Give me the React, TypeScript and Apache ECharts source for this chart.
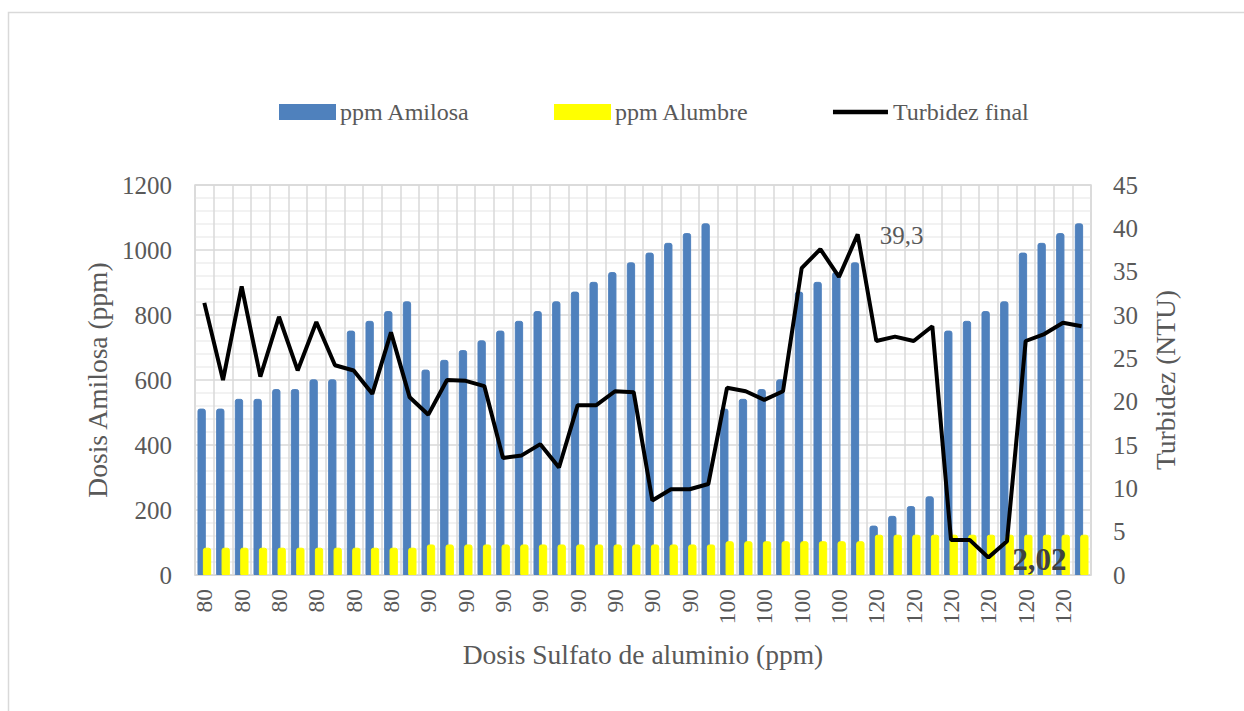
import React, { useEffect, useRef } from "react";
import * as echarts from "echarts";

const dosisSulfato: string[] = [
  "80", "80", "80", "80", "80", "80", "80", "80", "80", "80", "80", "80",
  "90", "90", "90", "90", "90", "90", "90", "90", "90", "90", "90", "90", "90", "90", "90", "90",
  "100", "100", "100", "100", "100", "100", "100", "100",
  "120", "120", "120", "120", "120", "120", "120", "120", "120", "120", "120", "120",
];

const ppmAmilosa: number[] = [
  512, 512, 542, 542, 572, 572, 602, 602, 752, 782, 812, 842,
  632, 662, 692, 722, 752, 782, 812, 842, 872, 902, 932, 962, 992, 1022, 1052, 1082,
  512, 542, 572, 602, 872, 902, 932, 962,
  152, 182, 212, 242, 752, 782, 812, 842, 992, 1022, 1052, 1082,
];

const ppmAlumbre: number[] = [
  84, 84, 84, 84, 84, 84, 84, 84, 84, 84, 84, 84,
  94, 94, 94, 94, 94, 94, 94, 94, 94, 94, 94, 94, 94, 94, 94, 94,
  104, 104, 104, 104, 104, 104, 104, 104,
  124, 124, 124, 124, 124, 124, 124, 124, 124, 124, 124, 124,
];

const turbidezFinal: number[] = [
  31.4, 22.5, 33.3, 22.9, 29.8, 23.6, 29.2, 24.2, 23.6, 20.9, 28.0, 20.5,
  18.5, 22.5, 22.4, 21.8, 13.5, 13.8, 15.1, 12.4, 19.6, 19.6, 21.2, 21.1, 8.6, 9.9, 9.9, 10.5,
  21.6, 21.2, 20.2, 21.2, 35.4, 37.6, 34.4, 39.3,
  27.0, 27.5, 27.0, 28.7, 4.05, 4.05, 2.02, 3.9, 27.0, 27.8, 29.1, 28.7,
];

const highlightMax = 35;
const highlightMin = 42;

const FONT = "'Liberation Serif', 'DejaVu Serif', serif";
const GRAY = "#595959";
const GRID = "#d9d9d9";

const fmt = (v: number) => String(v).replace(".", ",");

export default function App() {
  const ref = useRef<HTMLDivElement>(null);

  useEffect(() => {
    if (!ref.current) return;
    const chart = echarts.init(ref.current, undefined, { renderer: "svg" });
    const option: any = {
      animation: false,
      textStyle: { fontFamily: FONT },
      graphic: [
        {
          type: "rect",
          silent: true,
          z: -10,
          shape: { x: 8.5, y: 12.5, width: 1300, height: 800 },
          style: { fill: "none", stroke: GRID, lineWidth: 1.5 },
        },
      ],
      grid: {
        left: 195,
        right: 153,
        top: 185,
        bottom: 136,
        show: true,
        borderColor: GRID,
        borderWidth: 1.5,
      },
      legend: {
        left: 274,
        top: 95,
        itemWidth: 55,
        itemHeight: 14,
        itemGap: 84,
        textStyle: { fontFamily: FONT, fontSize: 24, color: GRAY },
        data: [
          { name: "ppm Amilosa", icon: "rect" },
          { name: "ppm Alumbre", icon: "rect" },
          { name: "Turbidez final", icon: "path://M0,0L55,0L55,4.5L0,4.5Z" },
        ],
      },
      xAxis: {
        type: "category",
        data: dosisSulfato,
        name: "Dosis Sulfato de aluminio (ppm)",
        nameLocation: "middle",
        nameGap: 65,
        nameTextStyle: { fontFamily: FONT, fontSize: 27.5, color: GRAY },
        axisLine: { show: true, lineStyle: { color: GRID, width: 1.5 } },
        axisTick: { show: false },
        axisLabel: {
          interval: 1,
          rotate: 90,
          margin: 14,
          fontFamily: FONT,
          fontSize: 23.5,
          color: GRAY,
        },
        splitLine: { show: true, interval: 0, lineStyle: { color: GRID, width: 1.5 } },
      },
      yAxis: [
        {
          type: "value",
          min: 0,
          max: 1200,
          interval: 200,
          name: "Dosis Amilosa (ppm)",
          nameLocation: "middle",
          nameGap: 76,
          nameTextStyle: { fontFamily: FONT, fontSize: 27.5, color: GRAY },
          axisLine: { show: false },
          axisTick: { show: false },
          axisLabel: {
            margin: 23,
            fontFamily: FONT,
            fontSize: 25,
            color: GRAY,
            formatter: (v: number) => String(v),
          },
          splitLine: { show: true, lineStyle: { color: GRID, width: 1.5 } },
          minorTick: { show: true, splitNumber: 5, length: 0, lineStyle: { color: "transparent" } },
          minorSplitLine: { show: true, lineStyle: { color: "#eeeeee", width: 1.5 } },
        },
        {
          type: "value",
          min: 0,
          max: 45,
          interval: 5,
          name: "Turbidez (NTU)",
          nameLocation: "middle",
          nameGap: 60,
          nameTextStyle: { fontFamily: FONT, fontSize: 27.5, color: GRAY },
          axisLine: { show: false },
          axisTick: { show: false },
          axisLabel: {
            margin: 22,
            fontFamily: FONT,
            fontSize: 25,
            color: GRAY,
            formatter: (v: number) => String(v),
          },
          splitLine: { show: false },
        },
      ],
      series: [
        {
          name: "ppm Amilosa",
          type: "bar",
          data: ppmAmilosa,
          barWidth: 8.3,
          barGap: "-35%",
          itemStyle: { color: "#4f81bd", borderColor: "#4f81bd", borderWidth: 1, borderRadius: [2, 2, 0, 0] },
        },
        {
          name: "ppm Alumbre",
          type: "bar",
          data: ppmAlumbre,
          barWidth: 8.3,
          barGap: "-35%",
          itemStyle: { color: "#ffff00", borderColor: "#ffff00", borderWidth: 1, borderRadius: [2, 2, 0, 0] },
        },
        {
          name: "Turbidez final",
          type: "line",
          yAxisIndex: 1,
          data: turbidezFinal,
          symbol: "none",
          z: 5,
          lineStyle: { color: "#000000", width: 4 },
          itemStyle: { color: "#000000" },
          markPoint: {
            symbol: "circle",
            symbolSize: 1,
            itemStyle: { color: "rgba(0,0,0,0)" },
            data: [
              {
                coord: [highlightMax, turbidezFinal[highlightMax]],
                label: {
                  show: true,
                  position: "inside",
                  offset: [44, 1],
                  formatter: () => fmt(turbidezFinal[highlightMax]),
                  fontFamily: FONT,
                  fontSize: 25,
                  color: GRAY,
                },
              },
              {
                coord: [highlightMin, turbidezFinal[highlightMin]],
                label: {
                  show: true,
                  position: "inside",
                  offset: [51, 2],
                  formatter: () => fmt(turbidezFinal[highlightMin]),
                  fontFamily: FONT,
                  fontSize: 31,
                  fontWeight: "bold",
                  color: "#404040",
                },
              },
            ],
          },
        },
      ],
    };
    chart.setOption(option);
    return () => chart.dispose();
  }, []);

  return (
    <div
      ref={ref}
      style={{ position: "fixed", left: 0, top: 0, width: 1244, height: 711, background: "#fff" }}
    />
  );
}
